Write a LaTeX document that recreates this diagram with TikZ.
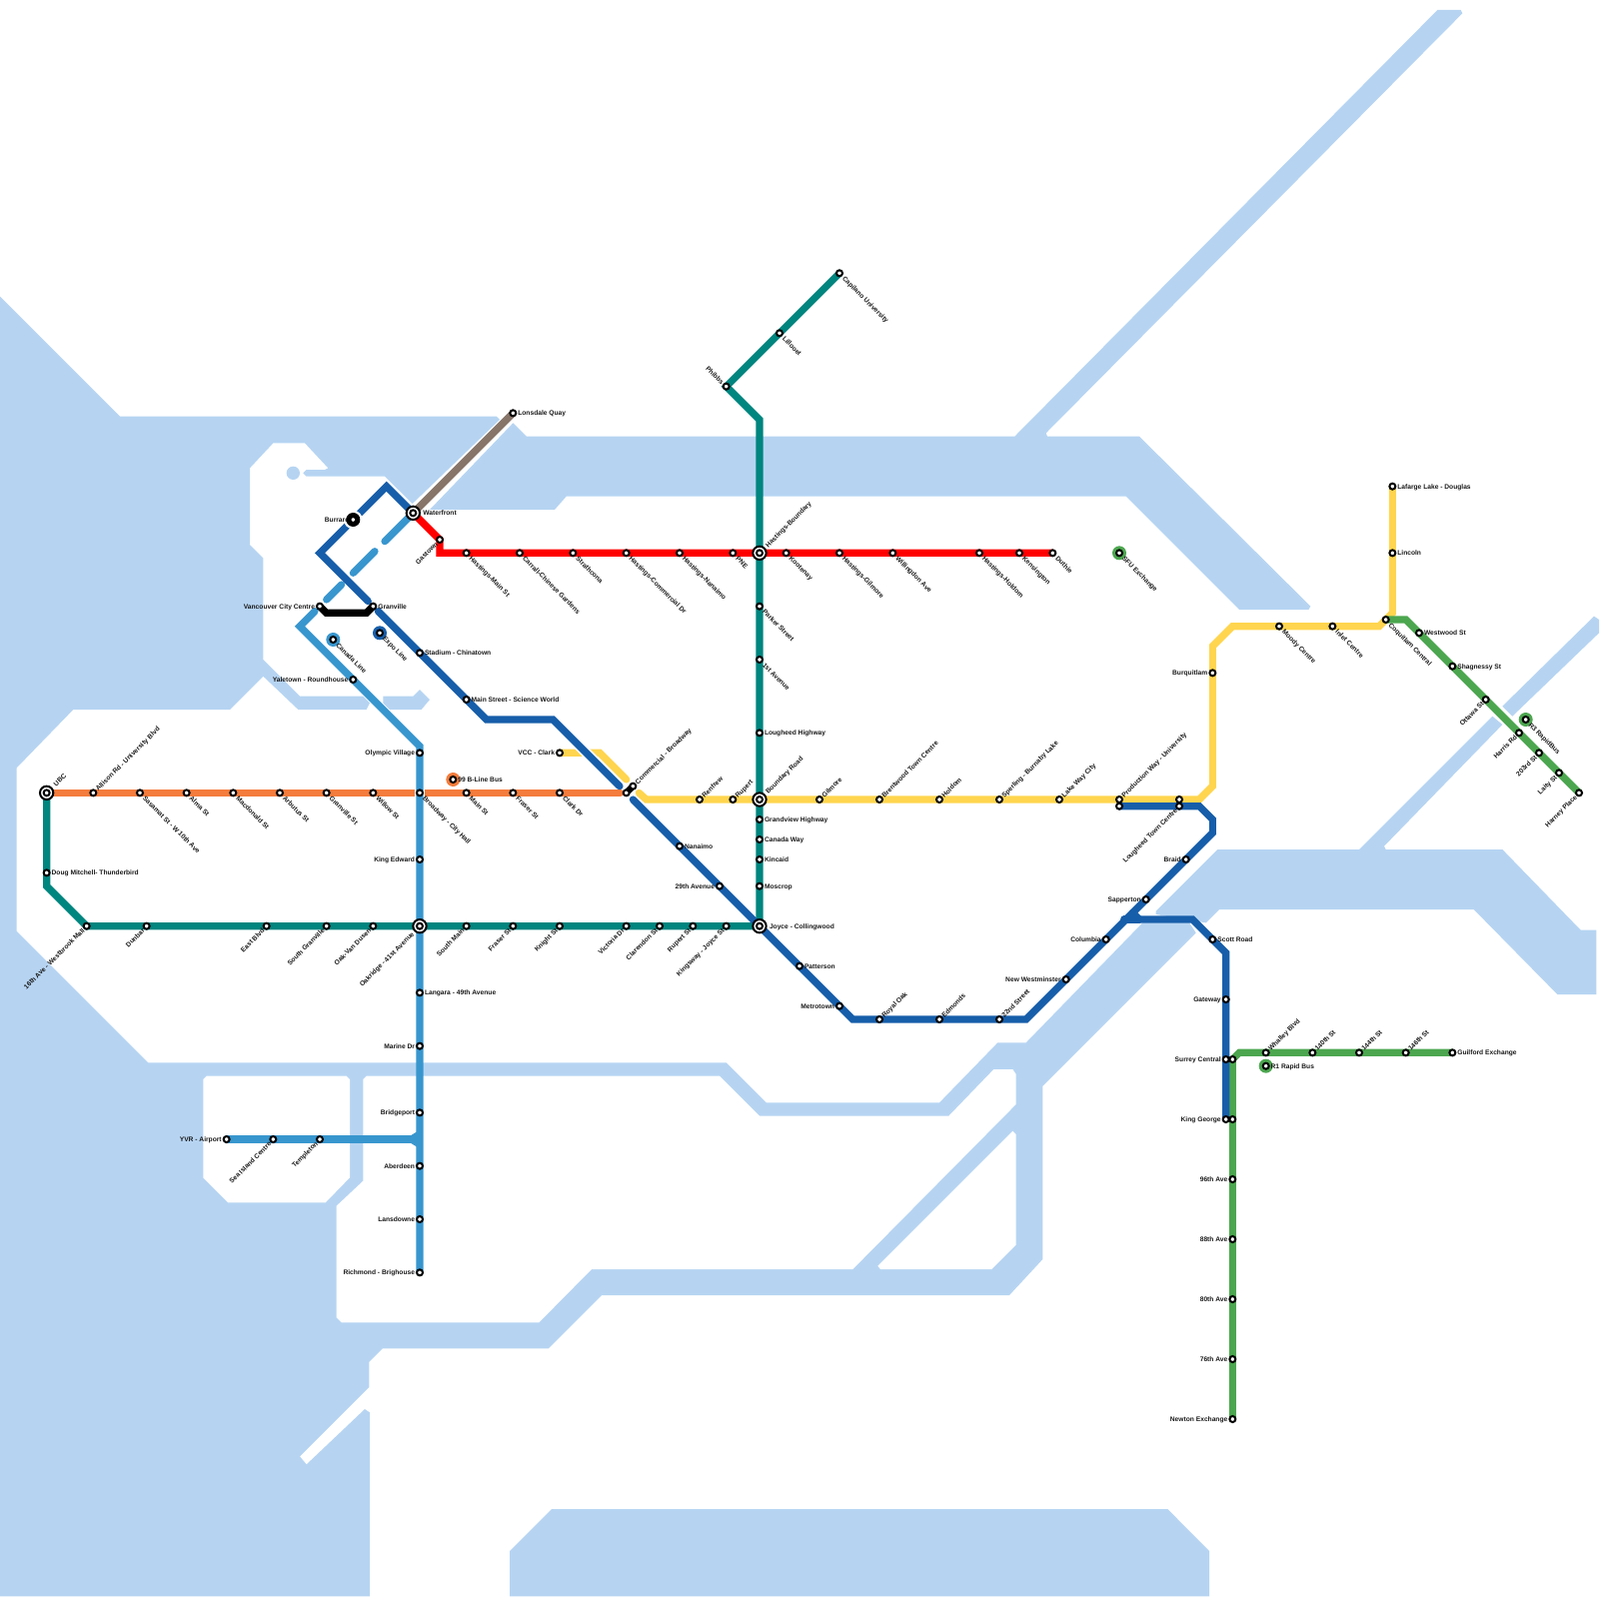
\documentclass[tikz,border=0pt]{standalone}
\usepackage{fontspec}
\setmainfont{Liberation Sans}
\definecolor{water}{HTML}{B6D4F2}
\definecolor{cExpo}{HTML}{175EAA}
\definecolor{cCanada}{HTML}{3896CE}
\definecolor{cTeal}{HTML}{00857F}
\definecolor{cOrange}{HTML}{F47C3C}
\definecolor{cYellow}{HTML}{FFD54F}
\definecolor{cRed}{HTML}{FF0000}
\definecolor{cGreen}{HTML}{4CA64F}
\definecolor{cBrown}{HTML}{87756A}
\pgfdeclarelayer{stations}
\pgfsetlayers{main,stations}
\tikzset{
  lab/.style={font=\fontsize{2.845}{3.4}\selectfont\bfseries,inner sep=0pt,outer sep=0pt,text=black!90,text height=.76mm,text depth=0pt},
  stn/.style={circle,draw=black,fill=white,line width=.3mm,minimum size=.9mm,inner sep=0pt,outer sep=0pt},
  hubring/.style={circle,draw=black,fill=white,line width=.3mm,minimum size=2mm,inner sep=0pt,outer sep=0pt},
  disc/.style={circle,minimum size=2.1mm,inner sep=0pt,outer sep=0pt},
  metro/.style={line width=1.08mm,line cap=round,line join=miter,miter limit=10},
  casing/.style={white,line width=1.6mm,line cap=butt},
  waterfill/.style={fill=water,draw=none},
  landfill/.style={fill=white,draw=none}
}
\newcommand\stR[5][.75]{\node[stn](#2) at (#3,#4){};\node[lab,anchor=west](#2-t) at (#3+#1,#4){#5};}
\newcommand\stL[5][.75]{\node[lab,anchor=east](#2-t) at (#3-#1,#4){#5};\node[stn](#2) at (#3,#4){};}
\newcommand\stUR[5][.5]{\node[stn](#2) at (#3,#4){};\node[lab,rotate=45,anchor=west](#2-t) at (#3+#1,#4-#1){#5};}
\newcommand\stDR[5][.65]{\node[stn](#2) at (#3,#4){};\node[lab,rotate=-45,anchor=west](#2-t) at (#3+#1,#4+#1){#5};}
\newcommand\stDL[5][.5]{\node[stn](#2) at (#3,#4){};\node[lab,rotate=45,anchor=east](#2-t) at (#3-#1,#4+#1){#5};}
\newcommand\stUL[5][.5]{\node[stn](#2) at (#3,#4){};\node[lab,rotate=-45,anchor=east](#2-t) at (#3-#1,#4-#1){#5};}
\newcommand\hubring[3]{\node[hubring](#1-ring) at (#2,#3){};}
\newcommand\legdisc[4]{\node[disc,fill=#4](#1-disc) at (#2,#3){};}
\begin{document}
\begin{tikzpicture}[x=1mm,y=-1mm]
\useasboundingbox (0,0) rectangle (240,240);
% ---------- water ----------
\fill[waterfill] (0,44.5) -- (18,62.5) -- (74.5,62.5) -- (75,63) -- (61.9,75.6) -- (57.75,71.5) -- (46,71.5) -- (45.5,71) -- (46,70.5) -- (48.75,70.5) -- (49.25,70.25) -- (45.75,66.5) -- (41,66.5) -- (37.5,70.25) -- (37.5,81.75) -- (39.5,83.75) -- (39.5,99) -- (45,104.5) -- (54.5,104.5) -- (55.5,105.5) -- (55,106.5) -- (44.75,106.5) -- (39.5,101.5) -- (34.5,106.5) -- (11,106.5) -- (2.5,115.25) -- (2.5,139.75) -- (22.25,159.5) -- (109,159.5) -- (115,165.5) -- (141,165.5) -- (149.75,156.5) -- (154,156.5) -- (171.5,138.5) -- (178.5,138.5) -- (179.5,140) -- (156.5,163) -- (156.5,189) -- (151.5,194.4) -- (90.3,194.4) -- (82.3,202.4) -- (57.4,202.4) -- (55.4,204.4) -- (55.4,208.2) -- (45,218.6) -- (46,219.8) -- (54.75,211.5) -- (55.5,212) -- (55.5,239.6) -- (0,239.6) -- cycle;
\fill[waterfill] (44,71) circle (1);
\fill[waterfill] (57.5,104.5) -- (62,104.5) -- (63,103.5) -- (64.5,105) -- (63.25,106.5) -- (58.5,106.5) -- (57.5,105.5) -- cycle;
% harbour and Indian Arm
\fill[waterfill] (77,63.5) -- (79,65.5) -- (152.3,65.5) -- (215.75,1.5) -- (219.25,1.5) -- (219.5,2) -- (157,65) -- (157.2,65.5) -- (171,65.5) -- (196.7,91) -- (196.4,91.5) -- (186,91.5) -- (169,74.5) -- (85,74.5) -- (83.25,76.5) -- (64.5,76.5) -- cycle;
% Fraser river and Pitt strips
\fill[waterfill] (182.75,127.5) -- (204,127.5) -- (224,107.5) -- (225.5,108.75) -- (207.75,127) -- (208,127.5) -- (225.5,127.5) -- (237.25,139.6) -- (239.6,139.6) -- (239.6,149.25) -- (233.75,149.25) -- (221.2,136.5) -- (183,136.5) -- (181,138.5) -- (173.5,137.25) -- (173.5,136.75) -- cycle;
\fill[waterfill] (225.5,106) -- (239.25,92.5) -- (240,93) -- (240,95) -- (227,107.5) -- cycle;
% bottom
\fill[waterfill] (82.8,226.5) -- (175.25,226.5) -- (181.5,232.8) -- (181.5,239.6) -- (76.5,239.6) -- (76.5,232.8) -- cycle;
% islands
\fill[landfill] (30.5,162) -- (31,161.5) -- (52,161.5) -- (52.5,162) -- (52.5,176.75) -- (48.85,180.5) -- (34.25,180.5) -- (30.5,176.75) -- cycle;
\fill[landfill] (54.5,162) -- (55,161.5) -- (108,161.5) -- (114,167.5) -- (142.4,167.5) -- (149.15,160.5) -- (152,160.5) -- (152.5,161.25) -- (152.5,165.75) -- (128,190.5) -- (88.8,190.5) -- (80.9,198.5) -- (51.25,198.5) -- (50.5,197.75) -- (50.5,181) -- (54.5,177.25) -- cycle;
\fill[landfill] (152,169.75) -- (152.5,170.25) -- (152.5,186.85) -- (148.85,190.5) -- (132.15,190.5) -- (131.75,190) -- cycle;
% ---------- stations and labels ----------
\begin{pgfonlayer}{stations}
\node[lab,anchor=east](burrard-t) at (52.4,78){Burrard};
\legdisc{burrard}{53}{78}{black}
\node[stn](burrard) at (53,78){};
\stR{lonsdale}{77}{62}{Lonsdale Quay}
\hubring{wf}{62}{77}\stR[1.5]{wf}{62}{77}{Waterfront}
\stDL{gastown}{66}{81}{Gastown}
\stDR{hmain}{70}{83}{Hastings-Main St}
\stDR{carrall}{78}{83}{Carrall-Chinese Gardens}
\stDR{strath}{86}{83}{Strathcona}
\stDR{hcomm}{94}{83}{Hastings-Commercial Dr}
\stDR{hnan}{102}{83}{Hastings-Nanaimo}
\stDR{pne}{110}{83}{PNE}
\hubring{hbound}{114}{83}\stUR[1.05]{hbound}{114}{83}{Hastings-Boundary}
\stDR{koot}{118}{83}{Kootenay}
\stDR{hgil}{126}{83}{Hastings-Gilmore}
\stDR{will}{134}{83}{Willingdon Ave}
\stDR{hhold}{147}{83}{Hastings-Holdom}
\stDR{kens}{153}{83}{Kensington}
\stDR{duthie}{158}{83}{Duthie}
\legdisc{sfu}{168}{83}{cGreen}\stDR{sfu}{168}{83}{SFU Exchange}
\stDR{capu}{126}{41}{Capilano University}
\stDR{lill}{117}{50}{Lillooet}
\stUL{phibbs}{109}{58}{Phibbs}
\stDR{parker}{114}{91}{Parker Street}
\stDR{first}{114}{99}{1st Avenue}
\stR{lhwy}{114}{110}{Lougheed Highway}
\hubring{bound}{114}{120}\stUR[1.05]{bound}{114}{120}{Boundary Road}
\stR{grand}{114}{123}{Grandview Highway}
\stR{canway}{114}{126}{Canada Way}
\stR{kincaid}{114}{129}{Kincaid}
\stR{moscrop}{114}{133}{Moscrop}
\hubring{joyce}{114}{139}\stR[1.5]{joyce}{114}{139}{Joyce - Collingwood}
\hubring{ubc}{7}{119}\stUR[1.2]{ubc}{7}{119}{UBC}
\stUR{allison}{14}{119}{Allison Rd - University Blvd}
\stDR{sasamat}{21}{119}{Sasamat St - W 10th Ave}
\stDR{alma}{28}{119}{Alma St}
\stDR{macd}{35}{119}{Macdonald St}
\stDR{arbutus}{42}{119}{Arbutus St}
\stDR{gran}{49}{119}{Granville St}
\stDR{willow}{56}{119}{Willow St}
\stDR{broad}{63}{119}{Broadway - City Hall}
\stDR{mainst}{70}{119}{Main St}
\stDR{fraser}{77}{119}{Fraser St}
\stDR{clark}{84}{119}{Clark Dr}
\stR{doug}{7}{131}{Doug Mitchell- Thunderbird}
\stDL{westb}{13}{139}{16th Ave - Westbrook Mall}
\stDL{dunbar}{22}{139}{Dunbar}
\stDL{east}{40}{139}{East Blvd}
\stDL{sgran}{49}{139}{South Granville}
\stDL{oakvan}{56}{139}{Oak-Van Dusen}
\hubring{oak}{63}{139}\stDL[1.05]{oak}{63}{139}{Oakridge - 41st Avenue}
\stDL{smain}{70}{139}{South Main}
\stDL{frasb}{77}{139}{Fraser St}
\stDL{knight}{84}{139}{Knight St}
\stDL{vic}{94}{139}{Victoria Dr}
\stDL{clar}{99}{139}{Clarendon St}
\stDL{rups}{104}{139}{Rupert St}
\stDL{king}{109}{139}{Kingsway - Joyce St}
\stL{vcc}{48}{91}{Vancouver City Centre}
\stR{granv}{56}{91}{Granville}
\stL{yale}{53}{102}{Yaletown - Roundhouse}
\stL{olympic}{63}{113}{Olympic Village}
\stL{kinged}{63}{129}{King Edward}
\stR{langara}{63}{149}{Langara - 49th Avenue}
\stL{marine}{63}{157}{Marine Dr}
\stL{bridge}{63}{167}{Bridgeport}
\stL{aber}{63}{175}{Aberdeen}
\stL{lans}{63}{183}{Lansdowne}
\stL{rich}{63}{191}{Richmond - Brighouse}
\stL{yvr}{34}{171}{YVR - Airport}
\stDL{seaisl}{41}{171}{Sea Island Centre}
\stDL{templ}{48}{171}{Templeton}
\legdisc{canleg}{50}{96}{cCanada}\stDR{canleg}{50}{96}{Canada Line}
\legdisc{expleg}{57}{95}{cExpo}\stDR{expleg}{57}{95}{Expo Line}
\legdisc{bline}{68}{117}{cOrange}\stR{bline}{68}{117}{99 B-Line Bus}
\stR{stadium}{63}{98}{Stadium - Chinatown}
\stR{science}{70}{105}{Main Street - Science World}
\stL{clarkv}{84}{113}{VCC - Clark}
\stR{nanaimo}{102}{127}{Nanaimo}
\stL{twentynine}{108}{133}{29th Avenue}
\stR{patter}{120}{145}{Patterson}
\stL{metro}{126}{151}{Metrotown}
\stUR{royal}{132}{153}{Royal Oak}
\stUR{edmonds}{141}{153}{Edmonds}
\stUR{twentytwo}{150}{153}{22nd Street}
\stL{newwest}{160}{147}{New Westminster}
\stL{columbia}{166}{141}{Columbia}
\stL{sapper}{172}{135}{Sapperton}
\stL{braid}{178}{129}{Braid}
\stR{scott}{182}{141}{Scott Road}
\stL{gateway}{184}{150}{Gateway}
\stL{surrey}{184}{159}{Surrey Central}
\stL{kgeorge}{184}{168}{King George}
\node[stn](commo) at (94,119){};
\stUR{comm}{95}{118}{Commercial - Broadway}
\stUR{renfrew}{105}{120}{Renfrew}
\stUR{rupert}{110}{120}{Rupert}
\stUR{gilmore}{123}{120}{Gilmore}
\stUR{brent}{132}{120}{Brentwood Town Centre}
\stUR{holdom}{141}{120}{Holdom}
\stUR{sperling}{150}{120}{Sperling - Burnaby Lake}
\stUR{lakecity}{159}{120}{Lake Way City}
\stUR{prody}{168}{120}{Production Way - University}
\node[stn](prodb) at (168,121){};
\node[stn](lougy) at (177,120){};
\stDL{lougb}{177}{121}{Lougheed Town Centre}
\stL{burq}{182}{101}{Burquitlam}
\stDR{moody}{192}{94}{Moody Centre}
\stDR{inlet}{200}{94}{Inlet Centre}
\stDR{coq}{208}{93}{Coquitlam Central}
\stR{lafarge}{209}{73}{Lafarge Lake - Douglas}
\stR{lincoln}{209}{83}{Lincoln}
\stR{westwood}{213}{95}{Westwood St}
\stR{shag}{218}{100}{Shagnessy St}
\stDL{ottawa}{223}{105}{Ottawa St}
\stDL{harris}{228}{110}{Harris Rd}
\stDL{twothree}{231}{113}{203rd St}
\stDL{laity}{234}{116}{Laity St}
\stDL{harney}{237}{119}{Harney Place}
\legdisc{rthree}{229}{108}{cGreen}\stDR{rthree}{229}{108}{R3 RapidBus}
\node[stn](surreyg) at (185,159){};
\node[stn](kgeog) at (185,168){};
\stL{ave96}{185}{177}{96th Ave}
\stL{ave88}{185}{186}{88th Ave}
\stL{ave80}{185}{195}{80th Ave}
\stL{ave76}{185}{204}{76th Ave}
\stL{newton}{185}{213}{Newton Exchange}
\stUR{whalley}{190}{158}{Whalley Blvd}
\stUR{st140}{197}{158}{140th St}
\stUR{st144}{204}{158}{144th St}
\stUR{st146}{211}{158}{146th St}
\stR{guild}{218}{158}{Guilford Exchange}
\legdisc{rone}{190}{160}{cGreen}\stR{rone}{190}{160}{R1 Rapid Bus}
\end{pgfonlayer}
% ---------- bend points ----------
\coordinate (tA) at (114,63);
\coordinate (tB) at (7,133);
\coordinate (rA) at (66,83);
\coordinate (oEnd) at (93.1,119);
\coordinate (yA) at (90,113);
\coordinate (yB) at (94,117);
\coordinate (yC) at (95.9,119);
\coordinate (yD) at (97,120);
\coordinate (yE) at (180,120);
\coordinate (yF) at (182,118);
\coordinate (yG) at (182,97);
\coordinate (yH) at (185,94);
\coordinate (yI) at (207,94);
\coordinate (yJ) at (209,92);
\coordinate (gA) at (211,93);
\coordinate (gB) at (186,158);
\coordinate (cA) at (57.75,81.25);
\coordinate (cB) at (56.25,82.75);
\coordinate (cC) at (53,86);
\coordinate (cD) at (51.25,87.75);
\coordinate (cE) at (49,90);
\coordinate (cF) at (47.25,91.75);
\coordinate (cG) at (45,94);
\coordinate (cH) at (63,112);
\coordinate (cW) at (61.6,171);
\coordinate (cWa) at (63,169.6);
\coordinate (cWb) at (63,172.4);
\coordinate (eA) at (58,73);
\coordinate (eB) at (48,83);
\coordinate (eC) at (55.25,90.25);
\coordinate (eD) at (56.75,91.75);
\coordinate (eE) at (73,108);
\coordinate (eF) at (83,108);
\coordinate (eG) at (93,118);
\coordinate (eH) at (95,120);
\coordinate (eI) at (128,153);
\coordinate (eJ) at (154,153);
\coordinate (eK) at (182,125);
\coordinate (eL) at (182,123);
\coordinate (eM) at (180,121);
\coordinate (eN) at (170,137);
\coordinate (eO) at (171,138);
\coordinate (eP) at (168.7,138);
\coordinate (eQ) at (179,138);
\coordinate (eR) at (184,143);
\coordinate (kA) at (49,92);
\coordinate (kB) at (55,92);
\coordinate (casA) at (63,117.2);
\coordinate (casB) at (63,120.8);
\coordinate (casC) at (86.5,111.5);
\coordinate (casD) at (89.5,114.5);
% ---------- lines ----------
\draw[metro,cTeal] (capu.center) -- (lill.center) -- (phibbs.center) -- (tA) -- (joyce.center);
\draw[metro,cTeal] (ubc.center) -- (tB) -- (westb.center) -- (joyce.center);
\draw[metro,cRed] (wf.center) -- (gastown.center) -- (rA) -- (duthie.center);
\draw[metro,cBrown] (wf.center) -- (lonsdale.center);
\draw[metro,cOrange] (ubc.center) -- (oEnd);
\draw[metro,cYellow] (clarkv.center) -- (yA) -- (yB);
\draw[metro,cYellow] (yC) -- (yD) -- (yE) -- (yF) -- (yG) -- (yH) -- (yI) -- (yJ) -- (lafarge.center);
\draw[metro,cGreen] (coq.center) -- (gA) -- (harney.center);
\draw[metro,cGreen] (newton.center) -- (surreyg.center) -- (gB) -- (guild.center);
\draw[casing] (casA) -- (casB);
\draw[casing] (casC) -- (casD);
\draw[metro,cCanada] (wf.center) -- (cA);
\draw[metro,cCanada] (cB) -- (cC);
\draw[metro,cCanada] (cD) -- (cE);
\draw[metro,cCanada] (cF) -- (cG) -- (cH) -- (rich.center);
\draw[metro,cCanada] (yvr.center) -- (cW);
\fill[cCanada] ([shift={(0,-.54)}]cW) -- (cWa) -- (cWb) -- ([shift={(0,.54)}]cW) -- cycle;
\draw[metro,black] (vcc.center) -- (kA) -- (kB) -- (granv.center);
\draw[metro,cExpo] (wf.center) -- (eA) -- (eB) -- (eC);
\draw[metro,cExpo] (eD) -- (eE) -- (eF) -- (eG);
\draw[metro,cExpo] (eH) -- (joyce.center) -- (eI) -- (eJ) -- (eK) -- (eL) -- (eM) -- (prodb.center);
\draw[metro,cExpo] (eN) -- (eO) -- (eQ) -- (eR) -- (kgeorge.center);
\draw[metro,cExpo] (eP) -- (eO);
\fill[white] (burrard) circle (1.4);
\draw[line width=1mm,black] (commo.center) -- (comm.center);
\draw[line width=.6mm,black] (prody.center) -- (prodb.center);
\draw[line width=.6mm,black] (lougy.center) -- (lougb.center);
\draw[line width=.6mm,black] (surrey.center) -- (surreyg.center);
\draw[line width=.6mm,black] (kgeorge.center) -- (kgeog.center);
\end{tikzpicture}
\end{document}
